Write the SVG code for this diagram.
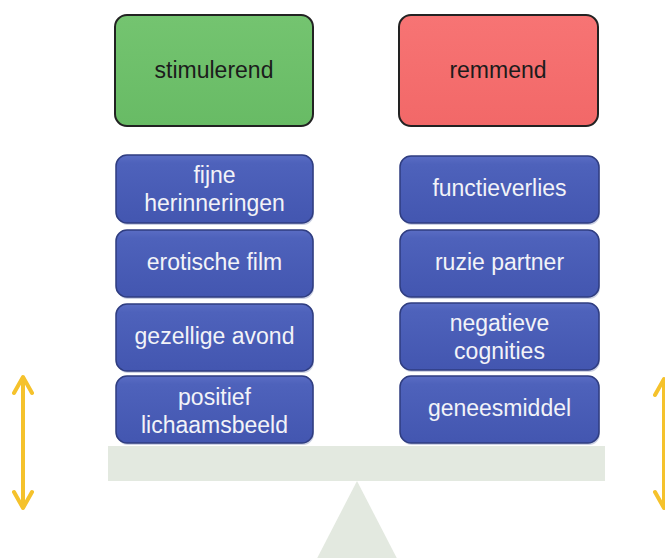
<svg xmlns="http://www.w3.org/2000/svg" width="665" height="558" viewBox="0 0 665 558">
<defs>
<linearGradient id="gBlue" x1="0" y1="0" x2="0" y2="1">
<stop offset="0" stop-color="#5a6dc4"/>
<stop offset="0.12" stop-color="#4e62bb"/>
<stop offset="1" stop-color="#4356b0"/>
</linearGradient>
<linearGradient id="gGreen" x1="0" y1="0" x2="0" y2="1">
<stop offset="0" stop-color="#74c470"/>
<stop offset="1" stop-color="#68bb65"/>
</linearGradient>
<linearGradient id="gRed" x1="0" y1="0" x2="0" y2="1">
<stop offset="0" stop-color="#f77474"/>
<stop offset="1" stop-color="#f26868"/>
</linearGradient>
<marker id="chev" viewBox="0 0 22 22" refX="19" refY="11" markerWidth="22" markerHeight="22" markerUnits="userSpaceOnUse" orient="auto-start-reverse">
<path d="M3,2 L19,11 L3,20" fill="none" stroke="#f5c22c" stroke-width="4" stroke-linecap="round" stroke-linejoin="round"/>
</marker>
</defs>
<style>
.head{stroke:#222;stroke-width:2}
.item{fill:url(#gBlue);stroke:#2f3d80;stroke-width:1.5}
.shadow{fill:#9aa3c8;opacity:0.5}
.ht{font-family:"Liberation Sans",Arial,sans-serif;font-size:23px;fill:#1c1c1c;text-anchor:middle}
.it{font-family:"Liberation Sans",Arial,sans-serif;font-size:23px;fill:#f2f3f8;text-anchor:middle}
.arr{stroke:#f5c22c;stroke-width:4;fill:none}
</style>
<rect width="665" height="558" fill="#ffffff"/>
<g id="balance">
<rect x="108" y="446" width="497" height="35" fill="#e3e9e0"/>
<polygon points="357,481 310,572 404,572" fill="#e3e9e0"/>
</g>
<g id="stimulerend">
<rect class="head" x="115" y="15" width="198" height="111" rx="12" fill="url(#gGreen)"/>
<text class="ht" x="214" y="78">stimulerend</text>
</g>
<g id="remmend">
<rect class="head" x="399" y="15" width="199" height="111" rx="12" fill="url(#gRed)"/>
<text class="ht" x="498" y="78">remmend</text>
</g>
<g id="fijne-herinneringen">
<rect class="shadow" x="117" y="157" width="197" height="68" rx="11"/>
<rect class="item" x="116" y="155" width="197" height="68" rx="11"/>
<text class="it" x="214.5" y="183">fijne</text>
<text class="it" x="214.5" y="211">herinneringen</text>
</g>
<g id="erotische-film">
<rect class="shadow" x="117" y="232" width="197" height="67" rx="11"/>
<rect class="item" x="116" y="230" width="197" height="67" rx="11"/>
<text class="it" x="214.5" y="270">erotische film</text>
</g>
<g id="gezellige-avond">
<rect class="shadow" x="117" y="306" width="197" height="67" rx="11"/>
<rect class="item" x="116" y="304" width="197" height="67" rx="11"/>
<text class="it" x="214.5" y="344">gezellige avond</text>
</g>
<g id="positief-lichaamsbeeld">
<rect class="shadow" x="117" y="378" width="197" height="67" rx="11"/>
<rect class="item" x="116" y="376" width="197" height="67" rx="11"/>
<text class="it" x="214.5" y="405">positief</text>
<text class="it" x="214.5" y="433">lichaamsbeeld</text>
</g>
<g id="functieverlies">
<rect class="shadow" x="401" y="158" width="199" height="67" rx="11"/>
<rect class="item" x="400" y="156" width="199" height="67" rx="11"/>
<text class="it" x="499.5" y="196">functieverlies</text>
</g>
<g id="ruzie-partner">
<rect class="shadow" x="401" y="232" width="199" height="67" rx="11"/>
<rect class="item" x="400" y="230" width="199" height="67" rx="11"/>
<text class="it" x="499.5" y="270">ruzie partner</text>
</g>
<g id="negatieve-cognities">
<rect class="shadow" x="401" y="305" width="199" height="67" rx="11"/>
<rect class="item" x="400" y="303" width="199" height="67" rx="11"/>
<text class="it" x="499.5" y="331">negatieve</text>
<text class="it" x="499.5" y="359">cognities</text>
</g>
<g id="geneesmiddel">
<rect class="shadow" x="401" y="378" width="199" height="67" rx="11"/>
<rect class="item" x="400" y="376" width="199" height="67" rx="11"/>
<text class="it" x="499.5" y="416">geneesmiddel</text>
</g>
<g id="connectors">
<line class="arr" x1="23" y1="377" x2="23" y2="508" marker-start="url(#chev)" marker-end="url(#chev)"/>
<line class="arr" x1="664" y1="379" x2="664" y2="508" marker-start="url(#chev)" marker-end="url(#chev)"/>
</g>
</svg>
